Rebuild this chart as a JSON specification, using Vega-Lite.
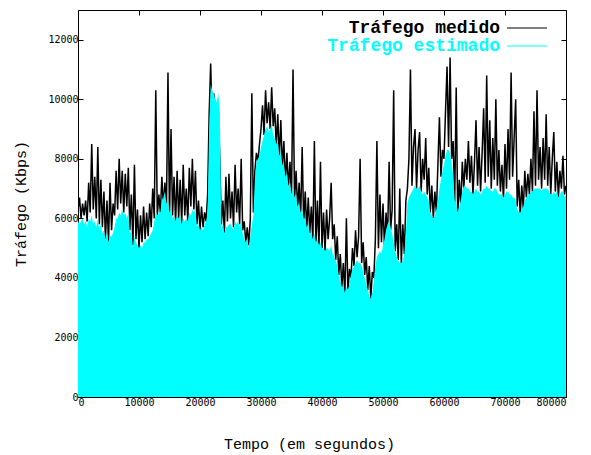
{
  "$schema": "https://vega.github.io/schema/vega-lite/v6.json",
  "width": 488,
  "height": 387,
  "autosize": {"type": "none"},
  "padding": {"left": 78, "top": 10, "right": 25, "bottom": 58},
  "background": "white",
  "config": {
    "view": {"stroke": "black", "strokeWidth": 1},
    "axis": {
      "domain": false,
      "grid": false,
      "tickColor": "black",
      "tickSize": -5,
      "labelColor": "black",
      "labelFont": "DejaVu Sans Mono",
      "labelFontSize": 10,
      "titleColor": "black",
      "titleFont": "Liberation Mono",
      "titleFontSize": 15,
      "titleFontWeight": "normal"
    }
  },
  "data": {"values": [
{"t":0,"m":6300,"e":5900},{"t":250,"m":6700,"e":5800},{"t":500,"m":6000,"e":5900},{"t":750,"m":6500,"e":6000},{"t":1000,"m":6100,"e":5800},{"t":1250,"m":6600,"e":5900},{"t":1500,"m":5900,"e":5700},{"t":1750,"m":7200,"e":6000},{"t":2000,"m":6200,"e":5900},{"t":2250,"m":8500,"e":6100},{"t":2500,"m":6300,"e":5800},{"t":2750,"m":7400,"e":5900},{"t":3000,"m":6000,"e":5700},{"t":3250,"m":8400,"e":6000},{"t":3500,"m":5800,"e":5600},{"t":3750,"m":7300,"e":5800},{"t":4000,"m":5700,"e":5500},{"t":4250,"m":6900,"e":5600},{"t":4500,"m":5300,"e":5300},{"t":4750,"m":6600,"e":5500},{"t":5000,"m":5200,"e":5200},{"t":5250,"m":7200,"e":5400},{"t":5500,"m":5600,"e":5400},{"t":5750,"m":6500,"e":5500},{"t":6000,"m":6100,"e":5700},{"t":6250,"m":7600,"e":6000},{"t":6500,"m":6300,"e":6000},{"t":6750,"m":8000,"e":6200},{"t":7000,"m":6500,"e":6100},{"t":7250,"m":7600,"e":6300},{"t":7500,"m":6200,"e":6100},{"t":7750,"m":7500,"e":6200},{"t":8000,"m":6400,"e":6000},{"t":8250,"m":7700,"e":6200},{"t":8500,"m":5600,"e":5500},{"t":8750,"m":6800,"e":5600},{"t":9000,"m":5100,"e":5000},{"t":9250,"m":7800,"e":5400},{"t":9500,"m":5300,"e":5200},{"t":9750,"m":6300,"e":5100},
{"t":10000,"m":5000,"e":5000},{"t":10250,"m":6100,"e":5100},{"t":10500,"m":5200,"e":5000},{"t":10750,"m":6400,"e":5200},{"t":11000,"m":5300,"e":5200},{"t":11250,"m":6200,"e":5300},{"t":11500,"m":5400,"e":5300},{"t":11750,"m":6500,"e":5400},{"t":12000,"m":5700,"e":5500},{"t":12250,"m":7000,"e":5600},{"t":12500,"m":6000,"e":5900},{"t":12750,"m":10300,"e":6200},{"t":13000,"m":6100,"e":6100},{"t":13250,"m":6800,"e":6200},{"t":13500,"m":6200,"e":6200},{"t":13750,"m":7400,"e":6600},{"t":14000,"m":6400,"e":6700},{"t":14250,"m":7200,"e":6900},{"t":14500,"m":6300,"e":6500},{"t":14750,"m":10900,"e":6600},{"t":15000,"m":6000,"e":6200},{"t":15250,"m":9000,"e":6300},{"t":15500,"m":6100,"e":6000},{"t":15750,"m":7400,"e":6100},{"t":16000,"m":5800,"e":5900},{"t":16250,"m":7600,"e":6100},{"t":16500,"m":6000,"e":6000},{"t":16750,"m":7300,"e":6100},{"t":17000,"m":5800,"e":5800},{"t":17250,"m":7800,"e":6000},{"t":17500,"m":6100,"e":5900},{"t":17750,"m":7000,"e":6000},{"t":18000,"m":5900,"e":5900},{"t":18250,"m":7700,"e":6200},{"t":18500,"m":6400,"e":6100},{"t":18750,"m":8000,"e":6300},{"t":19000,"m":6300,"e":6200},{"t":19250,"m":7600,"e":6300},{"t":19500,"m":5800,"e":5700},{"t":19750,"m":6600,"e":5800},
{"t":20000,"m":5600,"e":5600},{"t":20250,"m":6400,"e":5700},{"t":20500,"m":5700,"e":5600},{"t":20750,"m":6200,"e":5800},{"t":21000,"m":5900,"e":5900},{"t":21250,"m":6800,"e":6200},{"t":21500,"m":9500,"e":9000},{"t":21750,"m":11200,"e":10500},{"t":22000,"m":9000,"e":10300},{"t":22250,"m":10200,"e":10200},{"t":22500,"m":9700,"e":10000},{"t":22750,"m":9900,"e":9900},{"t":23000,"m":9600,"e":10200},{"t":23250,"m":8000,"e":9600},{"t":23500,"m":5800,"e":5600},{"t":23750,"m":6600,"e":5800},{"t":24000,"m":5500,"e":5500},{"t":24250,"m":7400,"e":5700},{"t":24500,"m":5900,"e":5700},{"t":24750,"m":7500,"e":5800},{"t":25000,"m":6000,"e":5800},{"t":25250,"m":6900,"e":5700},{"t":25500,"m":5700,"e":5600},{"t":25750,"m":7800,"e":5900},{"t":26000,"m":6200,"e":5800},{"t":26250,"m":7000,"e":5900},{"t":26500,"m":5800,"e":5700},{"t":26750,"m":8000,"e":5900},{"t":27000,"m":5600,"e":5500},{"t":27250,"m":5900,"e":5300},{"t":27500,"m":5200,"e":5200},{"t":27750,"m":5700,"e":5300},{"t":28000,"m":5100,"e":5000},{"t":28250,"m":6000,"e":5400},{"t":28500,"m":10200,"e":5800},{"t":28750,"m":6200,"e":6100},{"t":29000,"m":7600,"e":7300},{"t":29250,"m":8200,"e":7900},{"t":29500,"m":7900,"e":8000},{"t":29750,"m":8500,"e":8100},
{"t":30000,"m":9000,"e":8400},{"t":30250,"m":9800,"e":8600},{"t":30500,"m":8800,"e":8800},{"t":30750,"m":10300,"e":9000},{"t":31000,"m":9200,"e":9100},{"t":31250,"m":9900,"e":8900},{"t":31500,"m":9000,"e":9000},{"t":31750,"m":10400,"e":9200},{"t":32000,"m":9100,"e":8800},{"t":32250,"m":9700,"e":8700},{"t":32500,"m":8400,"e":8500},{"t":32750,"m":9500,"e":8600},{"t":33000,"m":8000,"e":8100},{"t":33250,"m":9300,"e":8200},{"t":33500,"m":7700,"e":7800},{"t":33750,"m":8600,"e":7800},{"t":34000,"m":7200,"e":7400},{"t":34250,"m":8200,"e":7500},{"t":34500,"m":7000,"e":7100},{"t":34750,"m":7900,"e":7200},{"t":35000,"m":6700,"e":6800},{"t":35250,"m":11000,"e":7000},{"t":35500,"m":6600,"e":6700},{"t":35750,"m":7600,"e":6800},{"t":36000,"m":6300,"e":6400},{"t":36250,"m":7200,"e":6500},{"t":36500,"m":6000,"e":6200},{"t":36750,"m":8400,"e":6300},{"t":37000,"m":5800,"e":6000},{"t":37250,"m":6900,"e":6000},{"t":37500,"m":5600,"e":5700},{"t":37750,"m":6700,"e":5800},{"t":38000,"m":5500,"e":5500},{"t":38250,"m":6400,"e":5500},{"t":38500,"m":5200,"e":5300},{"t":38750,"m":8600,"e":5500},{"t":39000,"m":5100,"e":5200},{"t":39250,"m":6600,"e":5300},{"t":39500,"m":5000,"e":5100},{"t":39750,"m":7900,"e":5200},
{"t":40000,"m":5000,"e":5000},{"t":40250,"m":6200,"e":5000},{"t":40500,"m":4900,"e":4900},{"t":40750,"m":6300,"e":5000},{"t":41000,"m":5300,"e":5000},{"t":41250,"m":6000,"e":4900},{"t":41500,"m":7200,"e":5100},{"t":41750,"m":5300,"e":4800},{"t":42000,"m":5800,"e":4700},{"t":42250,"m":4600,"e":4600},{"t":42500,"m":5400,"e":4400},{"t":42750,"m":4100,"e":4100},{"t":43000,"m":4800,"e":3900},{"t":43250,"m":3700,"e":3700},{"t":43500,"m":4500,"e":3700},{"t":43750,"m":3400,"e":3500},{"t":44000,"m":6000,"e":3700},{"t":44250,"m":3500,"e":3600},{"t":44500,"m":4300,"e":3800},{"t":44750,"m":4000,"e":4100},{"t":45000,"m":5000,"e":4300},{"t":45250,"m":4400,"e":4400},{"t":45500,"m":5600,"e":4500},{"t":45750,"m":4700,"e":4600},{"t":46000,"m":5400,"e":4500},{"t":46250,"m":8000,"e":4500},{"t":46500,"m":4500,"e":4400},{"t":46750,"m":5200,"e":4200},{"t":47000,"m":4100,"e":4000},{"t":47250,"m":4700,"e":3800},{"t":47500,"m":3600,"e":3600},{"t":47750,"m":4400,"e":3400},{"t":48000,"m":3300,"e":3300},{"t":48250,"m":4200,"e":3500},{"t":48500,"m":4000,"e":3900},{"t":48750,"m":5300,"e":4400},{"t":49000,"m":8600,"e":4700},{"t":49250,"m":5000,"e":4800},{"t":49500,"m":6800,"e":4900},{"t":49750,"m":5200,"e":4800},
{"t":50000,"m":6500,"e":5100},{"t":50250,"m":5000,"e":5300},{"t":50500,"m":6200,"e":5600},{"t":50750,"m":5300,"e":5800},{"t":51000,"m":7900,"e":5900},{"t":51250,"m":5600,"e":5700},{"t":51500,"m":6300,"e":5500},{"t":51750,"m":10300,"e":5200},{"t":52000,"m":4900,"e":4900},{"t":52250,"m":5800,"e":4700},{"t":52500,"m":4600,"e":4600},{"t":52750,"m":7000,"e":4500},{"t":53000,"m":4500,"e":4500},{"t":53250,"m":5800,"e":4600},{"t":53500,"m":4800,"e":4800},{"t":53750,"m":6600,"e":5500},{"t":54000,"m":7000,"e":6500},{"t":54250,"m":8000,"e":6700},{"t":54500,"m":11000,"e":6800},{"t":54750,"m":7100,"e":6900},{"t":55000,"m":8400,"e":7000},{"t":55250,"m":9000,"e":7100},{"t":55500,"m":7000,"e":7000},{"t":55750,"m":8300,"e":7000},{"t":56000,"m":8900,"e":7100},{"t":56250,"m":6900,"e":6900},{"t":56500,"m":8000,"e":6800},{"t":56750,"m":7300,"e":6900},{"t":57000,"m":8700,"e":6800},{"t":57250,"m":6800,"e":6700},{"t":57500,"m":7700,"e":6600},{"t":57750,"m":6200,"e":6200},{"t":58000,"m":7100,"e":6100},{"t":58250,"m":6000,"e":6000},{"t":58500,"m":6900,"e":6100},{"t":58750,"m":6200,"e":6300},{"t":59000,"m":7800,"e":6600},{"t":59250,"m":9400,"e":7000},{"t":59500,"m":7400,"e":7300},{"t":59750,"m":8300,"e":7600},
{"t":60000,"m":8000,"e":7800},{"t":60250,"m":9600,"e":8100},{"t":60500,"m":11100,"e":8300},{"t":60750,"m":8400,"e":8300},{"t":61000,"m":11400,"e":8200},{"t":61250,"m":8000,"e":7800},{"t":61500,"m":8600,"e":7500},{"t":61750,"m":6500,"e":6600},{"t":62000,"m":10400,"e":6500},{"t":62250,"m":6100,"e":6200},{"t":62500,"m":7300,"e":6400},{"t":62750,"m":6400,"e":6600},{"t":63000,"m":7900,"e":6900},{"t":63250,"m":7000,"e":7100},{"t":63500,"m":8000,"e":7100},{"t":63750,"m":7300,"e":7000},{"t":64000,"m":8600,"e":7000},{"t":64250,"m":7200,"e":6900},{"t":64500,"m":8100,"e":6900},{"t":64750,"m":6800,"e":6800},{"t":65000,"m":7900,"e":6900},{"t":65250,"m":9300,"e":7000},{"t":65500,"m":7100,"e":6900},{"t":65750,"m":8400,"e":6900},{"t":66000,"m":6900,"e":6800},{"t":66250,"m":8200,"e":6900},{"t":66500,"m":9700,"e":7000},{"t":66750,"m":7200,"e":7000},{"t":67000,"m":10800,"e":7100},{"t":67250,"m":7400,"e":7000},{"t":67500,"m":9300,"e":7000},{"t":67750,"m":7000,"e":6900},{"t":68000,"m":8700,"e":6900},{"t":68250,"m":7300,"e":7000},{"t":68500,"m":10000,"e":7000},{"t":68750,"m":7100,"e":6900},{"t":69000,"m":8300,"e":6800},{"t":69250,"m":6900,"e":6800},{"t":69500,"m":7800,"e":6800},{"t":69750,"m":6600,"e":6700},
{"t":70000,"m":8500,"e":6800},{"t":70250,"m":7000,"e":6900},{"t":70500,"m":9000,"e":6900},{"t":70750,"m":7300,"e":6800},{"t":71000,"m":10900,"e":6800},{"t":71250,"m":7400,"e":6700},{"t":71500,"m":8700,"e":6700},{"t":71750,"m":10000,"e":6600},{"t":72000,"m":6400,"e":6300},{"t":72250,"m":7300,"e":6200},{"t":72500,"m":6100,"e":6200},{"t":72750,"m":7100,"e":6300},{"t":73000,"m":6300,"e":6400},{"t":73250,"m":7600,"e":6600},{"t":73500,"m":6700,"e":6700},{"t":73750,"m":7500,"e":6800},{"t":74000,"m":6800,"e":6800},{"t":74250,"m":8000,"e":6900},{"t":74500,"m":6900,"e":6900},{"t":74750,"m":9600,"e":7000},{"t":75000,"m":7100,"e":7000},{"t":75250,"m":10300,"e":7000},{"t":75500,"m":7300,"e":7000},{"t":75750,"m":8400,"e":7000},{"t":76000,"m":7000,"e":6900},{"t":76250,"m":8700,"e":7000},{"t":76500,"m":7300,"e":7000},{"t":76750,"m":9500,"e":7000},{"t":77000,"m":7100,"e":7000},{"t":77250,"m":8400,"e":6900},{"t":77500,"m":6800,"e":6800},{"t":77750,"m":8000,"e":6800},{"t":78000,"m":8900,"e":6900},{"t":78250,"m":6900,"e":6800},{"t":78500,"m":7900,"e":6900},{"t":78750,"m":6700,"e":6700},{"t":79000,"m":7600,"e":6800},{"t":79250,"m":7000,"e":6900},{"t":79500,"m":8100,"e":6900},{"t":79750,"m":6800,"e":6700},{"t":80000,"m":7100,"e":6800}
  ]},
  "layer": [
    {
      "mark": {"type": "line", "strokeWidth": 1.5, "clip": true},
      "encoding": {
        "x": {"field": "t", "type": "quantitative", "scale": {"domain": [0, 80000], "nice": false, "zero": false},
              "axis": {"orient": "bottom", "values": [0,10000,20000,30000,40000,50000,60000,70000,80000], "format": "d", "labelPadding": 5,
                       "title": "Tempo (em segundos)", "titleX": 231, "titleY": 46, "titleBaseline": "middle"}},
        "y": {"field": "m", "type": "quantitative", "scale": {"domain": [0, 13000], "nice": false},
              "axis": {"orient": "left", "values": [0,2000,4000,6000,8000,10000,12000], "format": "d", "labelPadding": 5,
                       "title": "Tráfego (Kbps)", "titleX": -58, "titleBaseline": "middle"}},
        "color": {"datum": "Tráfego medido", "type": "nominal",
                  "scale": {"domain": ["Tráfego medido", "Tráfego estimado"], "range": ["#000000", "#00ffff"]},
                  "legend": {"orient": "none", "legendX": 440, "legendY": 9, "title": null, "symbolType": "M-2.35,0H2.35", "symbolSize": 289,
                             "symbolStrokeWidth": 1, "labelFont": "Liberation Mono", "labelFontSize": 18, "labelFontWeight": "bold",
                             "labelAlign": "right", "labelOffset": -36, "labelLimit": 0, "rowPadding": -3, "padding": 0,
                             "encode": {"labels": {"update": {"fill": {"signal": "datum.value === 'Tráfego estimado' ? '#00ffff' : '#000000'"}}}}}}
      }
    },
    {
      "mark": {"type": "area", "clip": true, "opacity": 1},
      "encoding": {
        "x": {"field": "t", "type": "quantitative", "axis": {"orient": "top", "values": [0,10000,20000,30000,40000,50000,60000,70000,80000], "labels": false, "title": null}},
        "y": {"field": "e", "type": "quantitative", "axis": {"orient": "right", "values": [0,2000,4000,6000,8000,10000,12000], "labels": false, "title": null}},
        "color": {"datum": "Tráfego estimado", "type": "nominal"}
      }
    }
  ],
  "resolve": {"axis": {"x": "independent", "y": "independent"}}
}
